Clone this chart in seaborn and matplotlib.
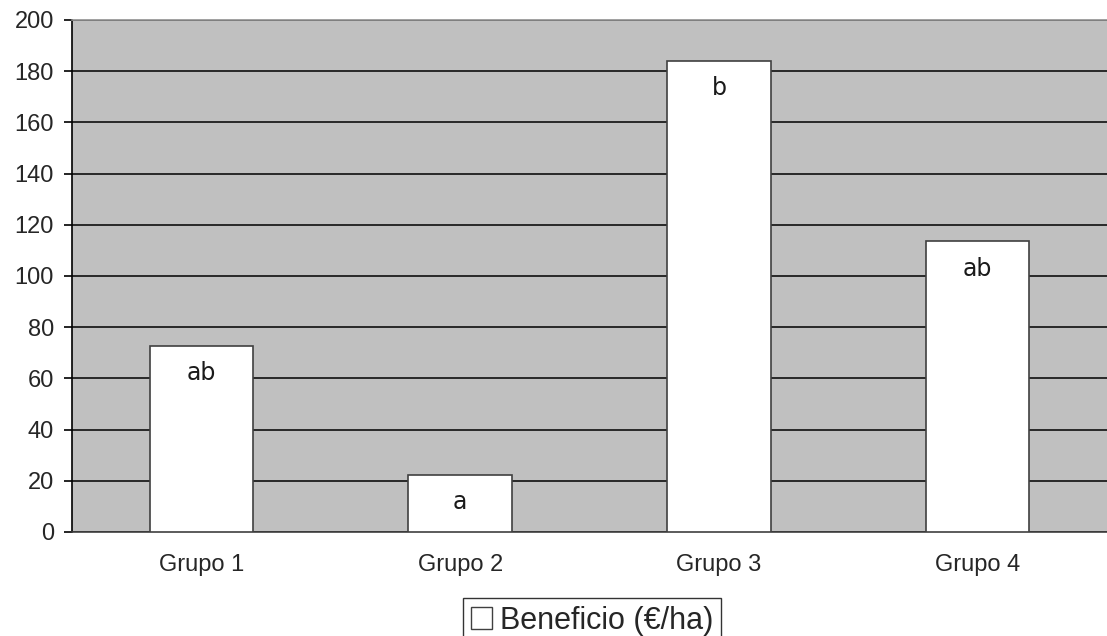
import matplotlib
matplotlib.use("Agg")
import matplotlib.pyplot as plt
import seaborn as sns
import pandas as pd
from matplotlib.patches import Patch

# Data
grupos = ["Grupo 1", "Grupo 2", "Grupo 3", "Grupo 4"]
beneficio = [72.8, 22.4, 184.1, 113.5]
letras = ["ab", "a", "b", "ab"]
y_ticks = [0, 20, 40, 60, 80, 100, 120, 140, 160, 180, 200]
serie = "Beneficio (€/ha)"

df = pd.DataFrame({"grupo": grupos, "beneficio": beneficio})

sns.set_style("white")
plt.rcParams["font.family"] = ["Liberation Sans", "DejaVu Sans"]

fig = plt.figure(figsize=(11.07, 6.36), dpi=100)
ax = fig.add_axes([72 / 1107, 1 - 532 / 636, 1 - 72 / 1107, (532 - 20) / 636])
ax.set_facecolor("#C0C0C0")

sns.barplot(data=df, x="grupo", y="beneficio", color="white", width=0.4,
            edgecolor="#404040", linewidth=1.2, saturation=1, ax=ax, zorder=3)

ax.set_ylim(0, 200)
ax.set_xlim(-0.5, 3.5)
ax.set_yticks(y_ticks)
ax.set_yticklabels([str(v) for v in y_ticks])
ax.yaxis.grid(True, color="black", linewidth=1.1, zorder=1)
ax.set_axisbelow(True)

# category labels without ticks; separating ticks between categories
ax.set_xticks(range(len(grupos)))
ax.set_xticklabels(grupos)
ax.set_xticks([-0.5, 0.5, 1.5, 2.5, 3.5], minor=True)
ax.tick_params(axis="x", which="major", length=0, pad=16, labelsize=17)
ax.tick_params(axis="x", which="minor", length=6, width=1.2, color="#404040",
               direction="out")
ax.tick_params(axis="y", length=6, width=1.2, color="black", direction="out",
               pad=7, labelsize=17, left=True)
ax.set_xlabel("")
ax.set_ylabel("")

for side, col in [("left", "black"), ("bottom", "#404040"), ("top", "#909090")]:
    ax.spines[side].set_visible(True)
    ax.spines[side].set_color(col)
    ax.spines[side].set_linewidth(1.2)
ax.spines["right"].set_visible(False)

# significance letters inside each bar
for i, (v, t) in enumerate(zip(beneficio, letras)):
    ax.annotate(t, xy=(i, v), xytext=(0, -11), textcoords="offset points",
                ha="center", va="top", fontsize=17, family="DejaVu Sans",
                color="#1a1a1a", zorder=4)

handle = Patch(facecolor="white", edgecolor="#404040", linewidth=1.0)
leg = fig.legend([handle], [serie], loc="upper center",
                 bbox_to_anchor=(592 / 1107, 1 - 598 / 636),
                 fontsize=22, frameon=True, fancybox=False, shadow=False,
                 borderpad=0.25, borderaxespad=0, handlelength=0.7,
                 handleheight=0.7, handletextpad=0.25)
leg.get_frame().set_edgecolor("black")
leg.get_frame().set_linewidth(1.0)

fig.savefig("out.png", dpi=100)
